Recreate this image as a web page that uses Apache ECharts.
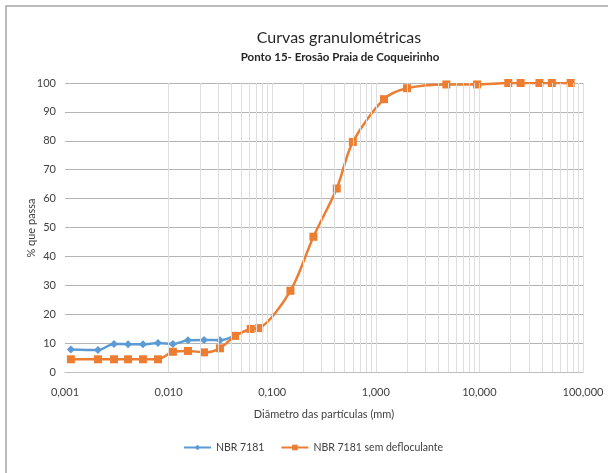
<!DOCTYPE html>
<html>
<head>
<meta charset="utf-8">
<script src="https://cdn.jsdelivr.net/npm/echarts@6/dist/echarts.min.js"></script>
<style>html,body{margin:0;padding:0;background:#fff}#c{width:608px;height:473px}</style>
</head>
<body>
<div id="c"></div>
<script>
var FONT = 'Lato, "DejaVu Sans Condensed", sans-serif';
var title = 'Curvas granulométricas';
var subtitle = 'Ponto 15- Erosão Praia de Coqueirinho';
var xName = 'Diâmetro das partículas (mm)';
var yName = '% que passa';
var seriesNames = ['NBR 7181', 'NBR 7181 sem defloculante'];
var xTickLabels = ['0,001', '0,010', '0,100', '1,000', '10,000', '100,000'];

var diamBlue = [0.00114, 0.00208, 0.00297, 0.00406, 0.00566, 0.0079, 0.0110, 0.0154, 0.0220, 0.0313, 0.0438];
var passBlue = [7.8, 7.6, 9.7, 9.6, 9.6, 10.0, 9.7, 11.0, 11.1, 11.0, 12.6];

var diamOrange = [0.00114, 0.00208, 0.00297, 0.00406, 0.00566, 0.0079, 0.0110, 0.0154, 0.0220, 0.0313, 0.0438,
  0.062, 0.075, 0.15, 0.25, 0.42, 0.6, 1.2, 2.0, 4.8, 9.5, 19, 25, 38, 50, 76];
var passOrange = [4.4, 4.4, 4.4, 4.4, 4.4, 4.4, 7.0, 7.3, 6.8, 8.2, 12.5,
  14.9, 15.2, 28.1, 46.8, 63.5, 79.6, 94.4, 98.2, 99.5, 99.5, 100, 100, 100, 100, 100];

function pairs(xs, ys) { return xs.map(function (x, i) { return [x, ys[i]]; }); }

var gridValues = [];
for (var d = -3; d <= 1; d++) {
  for (var k = 1; k <= 9; k++) gridValues.push(k * Math.pow(10, d));
}
gridValues.push(100);

var chart = echarts.init(document.getElementById('c'), null, {renderer: 'canvas'});
chart.setOption({
  animation: false,
  backgroundColor: '#fff',
  textStyle: {fontFamily: FONT},
  graphic: [{
    type: 'polyline', silent: true,
    shape: {points: [[6, 480], [6, 6], [620, 6]]},
    style: {stroke: '#a6a6a6', lineWidth: 1.5, fill: null}
  }, {
    type: 'text', silent: true, x: 31, y: 228, rotation: Math.PI / 2,
    style: {text: yName, fontFamily: FONT, fontSize: 11, fill: '#404040',
      align: 'center', verticalAlign: 'middle'}
  }],
  title: [{
    text: title, left: 334, top: 25, textAlign: 'center',
    textStyle: {fontFamily: FONT, fontSize: 16, fontWeight: 'normal', color: '#262626'}
  }, {
    text: subtitle, left: 335, top: 46, textAlign: 'center',
    textStyle: {fontFamily: FONT, fontSize: 11.5, fontWeight: 'bold', color: '#262626'}
  }],
  legend: {
    bottom: 15, left: 178, itemGap: 16, itemWidth: 27, itemHeight: 7,
    textStyle: {fontFamily: FONT, fontSize: 10.5, color: '#404040'},
    data: seriesNames
  },
  grid: {left: 65, right: 25, top: 83, bottom: 101},
  xAxis: {
    type: 'log', logBase: 10, min: 0.001, max: 100,
    name: xName, nameLocation: 'middle', nameGap: 37,
    nameTextStyle: {fontFamily: FONT, fontSize: 11, color: '#404040'},
    axisLine: {lineStyle: {color: '#bfbfbf'}},
    axisTick: {show: false},
    axisLabel: {
      fontFamily: FONT, fontSize: 11, color: '#404040', margin: 15,
      formatter: function (v) { return xTickLabels[Math.round(Math.log10(v)) + 3]; }
    },
    splitLine: {show: false}
  },
  yAxis: {
    type: 'value', min: 0, max: 100, interval: 10,
    axisLine: {show: false},
    axisTick: {show: false},
    axisLabel: {fontFamily: FONT, fontSize: 11, color: '#404040', margin: 9},
    splitLine: {lineStyle: {color: '#b4b4b4', width: 1}}
  },
  series: [{
    type: 'line', name: '_grid', data: [], silent: true, z: 1,
    markLine: {
      silent: true, symbol: ['none', 'none'], label: {show: false},
      lineStyle: {color: '#dedede', type: 'solid', width: 1},
      emphasis: {disabled: true},
      data: gridValues.map(function (v) { return {xAxis: v}; })
    }
  }, {
    type: 'line', name: seriesNames[0], data: pairs(diamBlue, passBlue), z: 3,
    smooth: 0.3, symbol: 'diamond', symbolSize: 8,
    itemStyle: {color: '#5B9BD5'}, lineStyle: {color: '#5B9BD5', width: 2.5}
  }, {
    type: 'line', name: seriesNames[1], data: pairs(diamOrange, passOrange), z: 4,
    smooth: 0.3, symbol: 'rect', symbolSize: 8,
    itemStyle: {color: '#ED7D31'}, lineStyle: {color: '#ED7D31', width: 2.5}
  }]
});
</script>
</body>
</html>
